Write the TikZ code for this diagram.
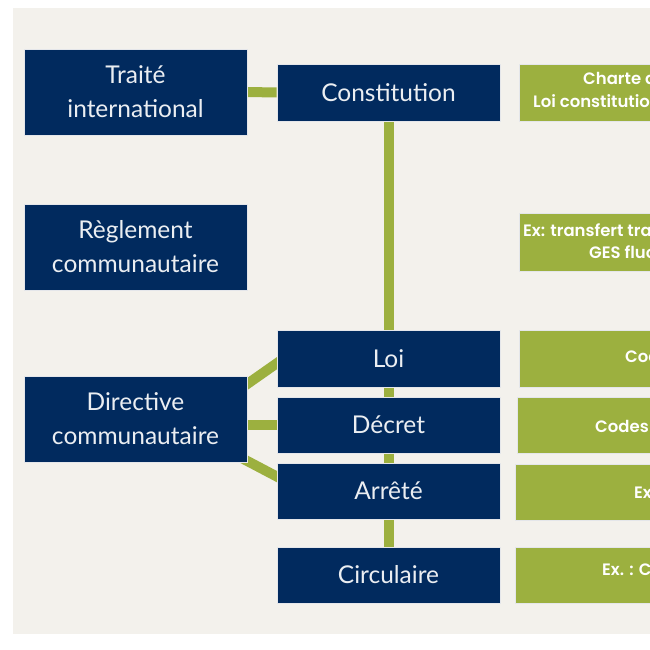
\documentclass[tikz,border=0pt]{standalone}
\usepackage{fontspec}
\usetikzlibrary{backgrounds,calc}
\newfontfamily\bluefont{Lato}
\newfontfamily\greenfont{Poppins}[BoldFont={Poppins SemiBold}]
\definecolor{navy}{HTML}{012A5E}
\definecolor{olive}{HTML}{9CB03F}
\definecolor{beige}{HTML}{F3F1EC}
\definecolor{edge}{HTML}{E4E6EA}
\tikzset{
  bluebox/.style={rectangle, fill=navy, draw=edge, line width=0.8pt, minimum width=223pt, text=white!92!navy, align=center, inner sep=0pt, font=\bluefont\fontsize{24.5}{34}\selectfont},
  greenbox/.style={rectangle, fill=olive, draw=edge, line width=0.8pt, anchor=north west, inner sep=0pt},
  gtext/.style={anchor=base west, inner sep=0pt, text=white, font=\greenfont\bfseries\fontsize{16.5}{22}\selectfont},
  link/.style={draw=olive, line width=10pt}
}
\begin{document}
\begin{tikzpicture}[x=1pt,y=-1pt]
\useasboundingbox (0,0) rectangle (650,650);
\clip (0,0) rectangle (650,650);
% blue boxes
\node[bluebox, minimum height=86pt] (trait) at (135.5,92) {Traité\\international};
\node[bluebox, minimum height=57pt] (const) at (388.5,92.5) {Constitution};
\node[bluebox, minimum height=86pt] (regl) at (135.5,247) {Règlement\\communautaire};
\node[bluebox, minimum height=86pt] (dir) at (135.5,419) {Directive\\communautaire};
\node[bluebox, minimum height=57pt] (loi) at (388.5,358.5) {Loi};
\node[bluebox, minimum height=56pt] (dec) at (388.5,425) {Décret};
\node[bluebox, minimum height=56pt] (arr) at (388.5,491) {Arrêté};
\node[bluebox, minimum height=56pt] (circ) at (388.5,575) {Circulaire};
% green boxes
\node[greenbox, minimum width=200pt, minimum height=57pt] (g1) at (519,64) {};
\node[greenbox, minimum width=200pt, minimum height=58pt] (g2) at (519,213) {};
\node[greenbox, minimum width=200pt, minimum height=57pt] (g3) at (519,330) {};
\node[greenbox, minimum width=200pt, minimum height=56pt] (g4) at (517,397) {};
\node[greenbox, minimum width=200pt, minimum height=56pt] (g5) at (515,464) {};
\node[greenbox, minimum width=200pt, minimum height=56pt] (g6) at (515,547) {};
\node[gtext] (t1a) at (583,85) {Charte de l'environnement};
\node[gtext] (t1b) at (533,108) {Loi constitutionnelle};
\node[gtext] (t2a) at (523,236) {Ex: transfert transfrontalier};
\node[gtext] (t2b) at (589,258) {GES fluorés};
\node[gtext] (t3) at (625,362) {Code de l'environnement};
\node[gtext] (t4) at (595,432) {Codes};
\node[gtext] (t5) at (634,498) {Ex};
\node[gtext] (t6) at (602,575) {Ex. : Circulaire};
% background and connectors
\begin{scope}[on background layer]
\fill[white] (0,0) rectangle (650,650);
\fill[beige] (13,8) rectangle (660,634);
\draw[link] (trait.east) -- (const.west);
\draw[link] (const.south) -- (circ.north);
\draw[link] ($(dir.east)+(-6,-30.9)$) -- ($(loi.west)+(6,0.7)$);
\draw[link] (dir.east |- dec.west) -- (dec.west);
\draw[link] ($(dir.east)+(-6,38.9)$) -- ($(arr.west)+(6,-11.4)$);
\end{scope}
\end{tikzpicture}
\end{document}
